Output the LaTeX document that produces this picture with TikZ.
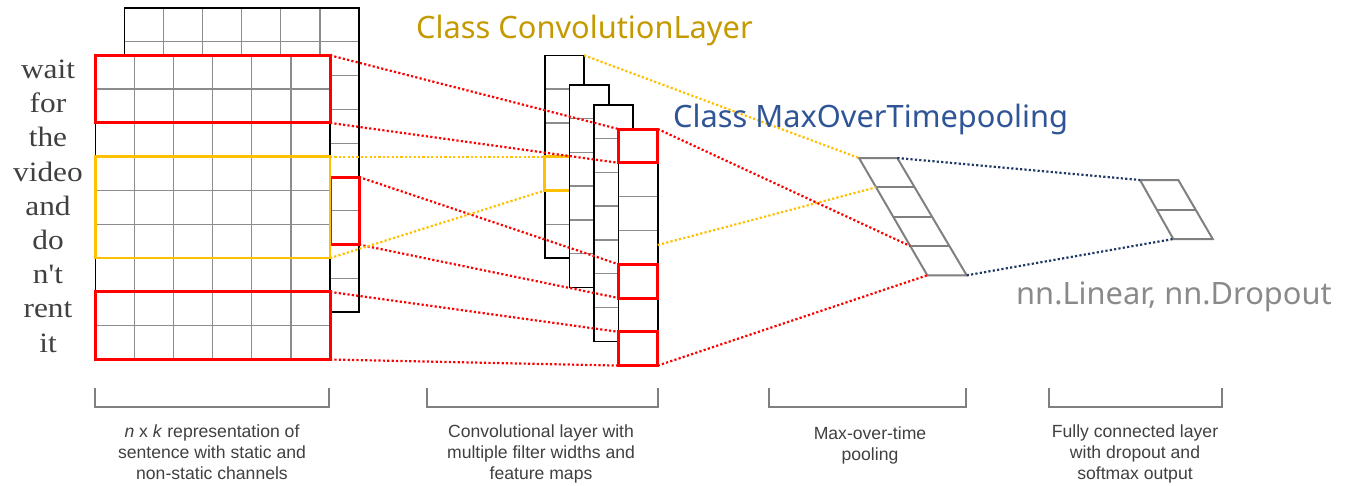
\documentclass[tikz,border=0pt]{standalone}
\usepackage{fontspec}
\setmainfont{Liberation Serif}
\setsansfont{Liberation Sans}
\newfontfamily\titlefont{Noto Sans}
\newfontfamily\wordfont[FakeStretch=1.12]{Liberation Serif}
\definecolor{myred}{HTML}{FF0000}
\definecolor{myyellow}{HTML}{FFC000}
\definecolor{mygold}{HTML}{C49A00}
\definecolor{mynavy}{HTML}{2F5597}
\definecolor{navydot}{HTML}{203864}
\definecolor{gridgray}{HTML}{8C8C8C}
\definecolor{txtgray}{HTML}{404040}
\definecolor{lightgray2}{HTML}{8A8A8A}
\tikzset{
  gridline/.style={draw=gridgray, line width=1.3pt},
  sheetout/.style={draw=black, line width=1.6pt},
  redbox/.style={draw=myred, line width=3pt},
  yelbox/.style={draw=myyellow, line width=2.6pt},
  reddot/.style={draw=myred, line width=2.2pt, dash pattern=on 2.2pt off 2.2pt},
  yeldot/.style={draw=myyellow, line width=2.2pt, dash pattern=on 2.2pt off 2.2pt},
  navydotted/.style={draw=navydot, line width=2.2pt, dash pattern=on 2.2pt off 2.2pt},
  poolline/.style={draw=gray, line width=2pt},
  bracket/.style={draw=gray, line width=2pt},
  word/.style={font=\wordfont\fontsize{28}{28}\selectfont, text=txtgray, inner sep=0pt, anchor=base},
  caption/.style={font=\sffamily\fontsize{17.6}{21}\selectfont, text=txtgray, align=center, anchor=north, inner sep=0pt},
  title/.style={font=\titlefont\fontsize{30.8}{30.8}\selectfont, inner sep=0pt, anchor=base west}
}
\begin{document}
\begin{tikzpicture}[x=1pt,y=-1pt]
\useasboundingbox (0,0) rectangle (1345,485);
\def\cw{39.12}
\def\ch{33.8}
% back sheet
\fill[white] (124.3,8) rectangle (359,312.2);
\foreach \i in {1,...,5} \draw[gridline] ({124.3+\i*\cw},8) -- ({124.3+\i*\cw},312.2);
\foreach \j in {1,...,8} \draw[gridline] (124.3,{8+\j*\ch}) -- (359,{8+\j*\ch});
\draw[sheetout] (124.3,8) rectangle (359,312.2);
\draw[redbox] (330,177) rectangle (359,244.6);
% front sheet
\fill[white] (95.3,55.3) rectangle (330,359.5);
\foreach \i in {1,...,5} \draw[gridline] ({95.3+\i*\cw},55.3) -- ({95.3+\i*\cw},359.5);
\foreach \j in {1,...,8} \draw[gridline] (95.3,{55.3+\j*\ch}) -- (330,{55.3+\j*\ch});
\draw[sheetout] (95.3,55.3) rectangle (330,359.5);
\draw[redbox] (95.3,55.3) rectangle (330,122.9);
\draw[yelbox] (95.3,156.7) rectangle (330,258.1);
\draw[redbox] (95.3,291.9) rectangle (330,359.5);
% feature maps
\def\mw{39.4}
% map1
\fill[white] (544.7,55.3) rectangle ++(\mw,{6*\ch});
\foreach \j in {1,...,5} \draw[gridline] (544.7,{55.3+\j*\ch}) -- ++(\mw,0);
\draw[sheetout] (544.7,55.3) rectangle ++(\mw,{6*\ch});
\draw[yelbox] (544.7,156.7) rectangle ++(\mw,\ch);
% map2
\fill[white] (569.3,84.7) rectangle ++(\mw,{6*\ch});
\foreach \j in {1,...,5} \draw[gridline] (569.3,{84.7+\j*\ch}) -- ++(\mw,0);
\draw[sheetout] (569.3,84.7) rectangle ++(\mw,{6*\ch});
% map3
\fill[white] (593.7,104.7) rectangle ++(\mw,{7*\ch});
\foreach \j in {1,...,6} \draw[gridline] (593.7,{104.7+\j*\ch}) -- ++(\mw,0);
\draw[sheetout] (593.7,104.7) rectangle ++(\mw,{7*\ch});
% map4
\fill[white] (618.3,129) rectangle ++(\mw,{7*\ch});
\foreach \j in {1,...,6} \draw[gridline] (618.3,{129+\j*\ch}) -- ++(\mw,0);
\draw[sheetout] (618.3,129) rectangle ++(\mw,{7*\ch});
\draw[redbox] (618.3,129) rectangle ++(\mw,\ch);
\draw[redbox] (618.3,{129+4*\ch}) rectangle ++(\mw,\ch);
\draw[redbox] (618.3,{129+6*\ch}) rectangle ++(\mw,\ch);
% pooling
\draw[poolline] (859,158) -- (897.3,158) -- (966.7,275.3) -- (927.3,275.3) -- cycle;
\foreach \k in {1,2,3} \draw[poolline] ({859+\k*17.08},{158+\k*29.33}) -- ++(38.3,0);
% fc
\draw[poolline] (1140,180) -- (1178.3,180) -- (1212.7,239) -- (1173.3,239) -- cycle;
\draw[poolline] (1156.65,209.5) -- ++(38.3,0);
% named coordinates
\coordinate (s1a) at (330,55.3);
\coordinate (s1b) at (330,122.9);
\coordinate (bka) at (359,177);
\coordinate (bkb) at (359,244.6);
\coordinate (s3a) at (330,291.9);
\coordinate (s3b) at (330,359.5);
\coordinate (ya) at (330,156.7);
\coordinate (yb) at (330,258.1);
\coordinate (m1ya) at (544.7,156.7);
\coordinate (m1yb) at (544.7,190.5);
\coordinate (m4a) at (618.3,129);
\coordinate (m4b) at (618.3,162.8);
\coordinate (m4c) at (618.3,264.2);
\coordinate (m4d) at (618.3,298);
\coordinate (m4e) at (618.3,331.8);
\coordinate (m4f) at (618.3,365.6);
\coordinate (m1tr) at (584.1,55.3);
\coordinate (m4ry) at (657.7,245);
\coordinate (m4tr) at (657.7,129);
\coordinate (m4br) at (657.7,365.6);
\coordinate (p0) at (859,158);
\coordinate (p1) at (876.1,187.3);
\coordinate (p3) at (910.2,246);
\coordinate (p4) at (927.3,275.3);
\coordinate (ptr) at (897.3,158);
\coordinate (pbr) at (966.7,275.3);
\coordinate (f0) at (1140,180);
\coordinate (f2) at (1173.3,239);
% dotted connectors
\draw[reddot] (s1a) -- (m4a);
\draw[reddot] (s1b) -- (m4b);
\draw[reddot] (bka) -- (m4c);
\draw[reddot] (bkb) -- (m4d);
\draw[reddot] (s3a) -- (m4e);
\draw[reddot] (s3b) -- (m4f);
\draw[yeldot] (ya) -- (m1ya);
\draw[yeldot] (yb) -- (m1yb);
\draw[yeldot] (m1tr) -- (p0);
\draw[yeldot] (m4ry) -- (p1);
\draw[reddot] (m4tr) -- (p3);
\draw[reddot] (m4br) -- (p4);
\draw[navydotted] (ptr) -- (f0);
\draw[navydotted] (pbr) -- (f2);
% words
\foreach \w [count=\n from 0] in {wait,for,the,video,and,do,n\char39 t,rent,it}
  \node[word] (w\n) at (48,{78.5+\n*34.2}) {\w};
% titles
\node[title, text=mygold] (t1) at (416,38.3) {Class ConvolutionLayer};
\node[title, text=mynavy] (t2) at (673,127) {Class MaxOverTimepooling};
\node[title, text=lightgray2] (t3) at (1016,304) {nn.Linear, nn.Dropout};
% brackets
\draw[bracket] (95,388) -- (95,407) -- (329,407) -- (329,388);
\draw[bracket] (427,388) -- (427,407) -- (658,407) -- (658,388);
\draw[bracket] (769,388) -- (769,407) -- (966,407) -- (966,388);
\draw[bracket] (1049,388) -- (1049,407) -- (1222,407) -- (1222,388);
% captions
\node[caption] (c1) at (212,425) {\textit{n} x \textit{k} representation of\\sentence with static and\\non-static channels};
\node[caption] (c2) at (541,425) {Convolutional layer with\\multiple filter widths and\\feature maps};
\node[caption] (c3) at (870,427) {Max-over-time\\pooling};
\node[caption] (c4) at (1135,425) {Fully connected layer\\with dropout and\\softmax output};
\end{tikzpicture}
\end{document}
